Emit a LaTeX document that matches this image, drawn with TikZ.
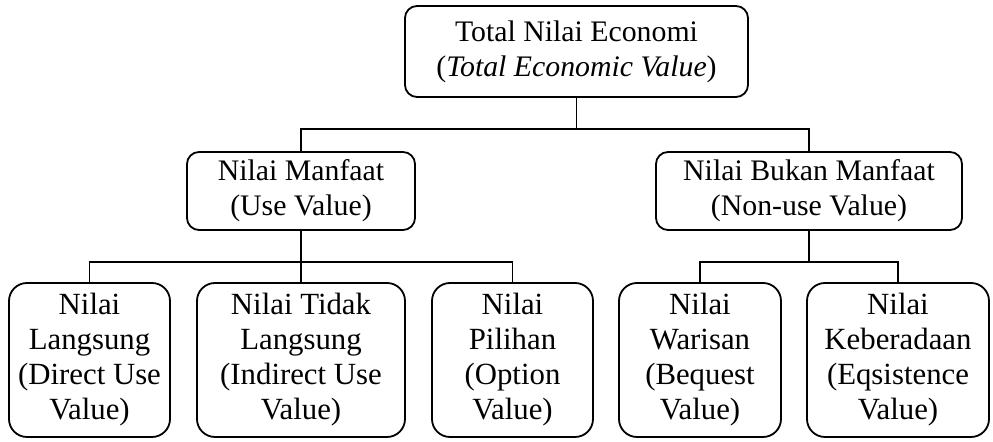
\documentclass[tikz,border=0pt]{standalone}
\usepackage{fontspec}
\setmainfont{Liberation Serif}
\begin{document}
\begin{tikzpicture}[x=0.5pt, y=-0.5pt, line width=0.9pt,
				kotak/.style={draw, rounded corners=6pt, align=center, inner sep=0pt,
					font=\fontsize{14.9}{17.5}\selectfont},
				kotakbawah/.style={kotak, rounded corners=9pt, minimum height=77pt,
					font=\fontsize{15.4}{17.5}\selectfont}]
				\useasboundingbox (0,0) rectangle (993,442);
				\node[kotak, minimum width=171.5pt, minimum height=45.5pt] (tev) at (576.5,51.5)
					{Total Nilai Economi\\(\textit{Total Economic Value})};
				\node[kotak, minimum width=114pt, minimum height=39pt] (um) at (301,191)
					{Nilai Manfaat\\(Use Value)};
				\node[kotak, minimum width=153pt, minimum height=39pt] (num) at (809,191)
					{Nilai Bukan Manfaat\\(Non-use Value)};
				\node[kotakbawah, minimum width=80.5pt] (dl) at (89.5,360)
					{Nilai\\Langsung\\(Direct Use\\Value)};
				\node[kotakbawah, minimum width=104pt] (tl) at (301,360)
					{Nilai Tidak\\Langsung\\(Indirect Use\\Value)};
				\node[kotakbawah, minimum width=80.5pt] (op) at (512.5,360)
					{Nilai\\Pilihan\\(Option\\Value)};
				\node[kotakbawah, minimum width=81pt] (wr) at (700,360)
					{Nilai\\Warisan\\(Bequest\\Value)};
				\node[kotakbawah, minimum width=91pt] (kb) at (898,360)
					{Nilai\\Keberadaan\\(Eqsistence\\Value)};
				% cabang
				\coordinate (c0) at (576.5,129);
				\coordinate (c1) at (301,262);
				\coordinate (c2) at (809,262);
				\draw (tev.south) -- (c0);
				\draw (um.north) |- (c0) -| (num.north);
				\draw (um.south) -- (c1);
				\draw (dl.north) |- (c1) -| (op.north);
				\draw (c1) -- (tl.north);
				\draw (num.south) -- (c2);
				\draw (wr.north) |- (c2) -| (kb.north);
			\end{tikzpicture}
\end{document}
